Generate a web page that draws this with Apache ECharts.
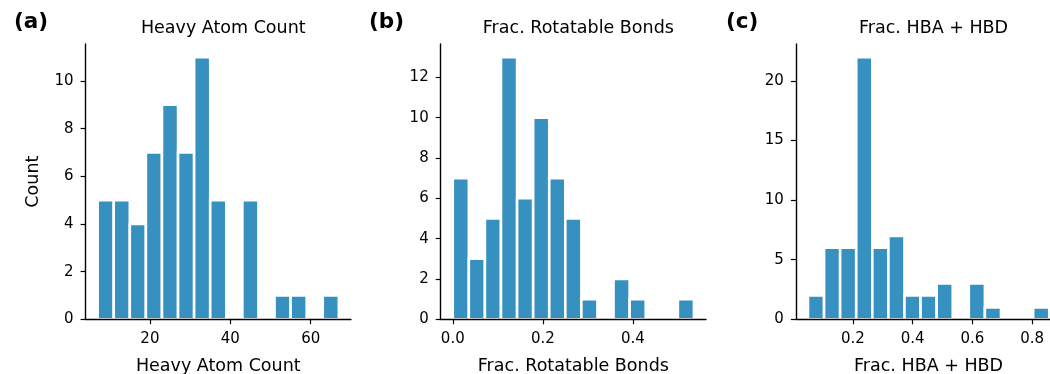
<!DOCTYPE html>
<html>
<head>
<meta charset="utf-8">
<script src="https://cdn.jsdelivr.net/npm/echarts@6/dist/echarts.min.js"></script>
<style>
  html, body { margin: 0; padding: 0; background: #fff; }
  #chart { width: 1050px; height: 374px; }
</style>
</head>
<body>
<div id="chart"></div>
<script>
"use strict";

// histogram bin edges (16 edges -> 15 bins) and counts per panel
var heavyEdges = [7, 11, 15, 19, 23, 27, 31, 35, 39, 43, 47, 51, 55, 59, 63, 67];
var heavyCounts = [5, 5, 4, 7, 9, 7, 11, 5, 0, 5, 0, 1, 1, 0, 1];

var rotEdges = [0, 0.0357, 0.0714, 0.1071, 0.1429, 0.1786, 0.2143, 0.25, 0.2857, 0.3214, 0.3571, 0.3929, 0.4286, 0.4643, 0.5, 0.5357];
var rotCounts = [7, 3, 5, 13, 6, 10, 7, 5, 1, 0, 2, 1, 0, 0, 1];

var hbaEdges = [0.05, 0.1038, 0.1576, 0.2114, 0.2652, 0.319, 0.3728, 0.4266, 0.4804, 0.5342, 0.588, 0.6418, 0.6956, 0.7494, 0.8032, 0.857];
var hbaCounts = [2, 6, 6, 22, 6, 7, 2, 2, 3, 0, 3, 1, 0, 0, 1];

var titles = ['Heavy Atom Count', 'Frac. Rotatable Bonds', 'Frac. HBA + HBD'];
var xNames = ['Heavy Atom Count', 'Frac. Rotatable Bonds', 'Frac. HBA + HBD'];
var panelTags = ['(a)', '(b)', '(c)'];

var xTicks = [[20, 40, 60], [0, 0.2, 0.4], [0.2, 0.4, 0.6, 0.8]];
var yTicks = [[0, 2, 4, 6, 8, 10], [0, 2, 4, 6, 8, 10, 12], [0, 5, 10, 15, 20]];

var chart = echarts.init(document.getElementById('chart'));

var barColor = '#3690c0';
var fontFam = 'DejaVu Sans';
var gridLefts = [85.6, 440.7, 795.9];
var gridWidth = 265.3;
var xRanges = [[4, 70], [-0.0268, 0.5625], [0.0096, 0.897]];
var yMaxes = [11.55, 13.65, 23.1];
var xFmt = [
  function (v) { return String(Math.round(v)); },
  function (v) { return v.toFixed(1); },
  function (v) { return v.toFixed(1); }
];

function histData(edges, counts) {
  var out = [];
  for (var i = 0; i < counts.length; i++) {
    out.push([edges[i], edges[i + 1], counts[i]]);
  }
  return out;
}

function renderBin(params, api) {
  var x0 = api.value(0), x1 = api.value(1), h = api.value(2);
  if (!h) return null;
  var p0 = api.coord([x0, 0]);
  var p1 = api.coord([x1, h]);
  return {
    type: 'rect',
    shape: { x: p0[0], y: p1[1], width: p1[0] - p0[0], height: p0[1] - p1[1] },
    style: { fill: barColor, stroke: '#ffffff', lineWidth: 2.6 }
  };
}

var datasets = [histData(heavyEdges, heavyCounts), histData(rotEdges, rotCounts), histData(hbaEdges, hbaCounts)];

var grids = [], xAxes = [], yAxes = [], series = [], titleList = [];

for (var k = 0; k < 3; k++) {
  grids.push({ left: gridLefts[k], width: gridWidth, top: 44, bottom: 54.7, containLabel: false, outerBoundsMode: 'none' });
  xAxes.push({
    type: 'value', gridIndex: k, min: xRanges[k][0], max: xRanges[k][1], z: 5,
    splitLine: { show: false },
    axisLine: { show: true, onZero: false, lineStyle: { color: '#000', width: 1.4 } },
    axisTick: { show: true, length: 5, lineStyle: { color: '#000', width: 1.2 }, customValues: xTicks[k] },
    axisLabel: { color: '#000', fontSize: 15, fontFamily: fontFam, margin: 12, customValues: xTicks[k], formatter: xFmt[k] },
    name: xNames[k], nameLocation: 'middle', nameGap: 38,
    nameTextStyle: { color: '#000', fontSize: 17.5, fontFamily: fontFam, verticalAlign: 'top' }
  });
  yAxes.push({
    type: 'value', gridIndex: k, min: 0, max: yMaxes[k], z: 5,
    splitLine: { show: false },
    axisLine: { show: true, onZero: false, lineStyle: { color: '#000', width: 1.4 } },
    axisTick: { show: true, length: 5, lineStyle: { color: '#000', width: 1.2 }, customValues: yTicks[k] },
    axisLabel: { color: '#000', fontSize: 15, fontFamily: fontFam, margin: 12, customValues: yTicks[k] },
    name: k === 0 ? 'Count' : '', nameLocation: 'middle', nameGap: 43, nameRotate: 90,
    nameTextStyle: { color: '#000', fontSize: 17.5, fontFamily: fontFam }
  });
  series.push({
    type: 'custom', xAxisIndex: k, yAxisIndex: k,
    renderItem: renderBin, data: datasets[k], silent: true
  });
  titleList.push({
    text: titles[k], left: gridLefts[k] + gridWidth / 2, top: 14, textAlign: 'center',
    textStyle: { color: '#000', fontSize: 17.5, fontWeight: 'normal', fontFamily: fontFam }
  });
  titleList.push({
    text: panelTags[k], left: [9, 364, 721][k], top: 6,
    textStyle: { color: '#000', fontSize: 21.5, fontWeight: 'bold', fontFamily: fontFam }
  });
}

chart.setOption({
  animation: false,
  title: titleList,
  grid: grids,
  xAxis: xAxes,
  yAxis: yAxes,
  series: series
});
</script>
</body>
</html>
